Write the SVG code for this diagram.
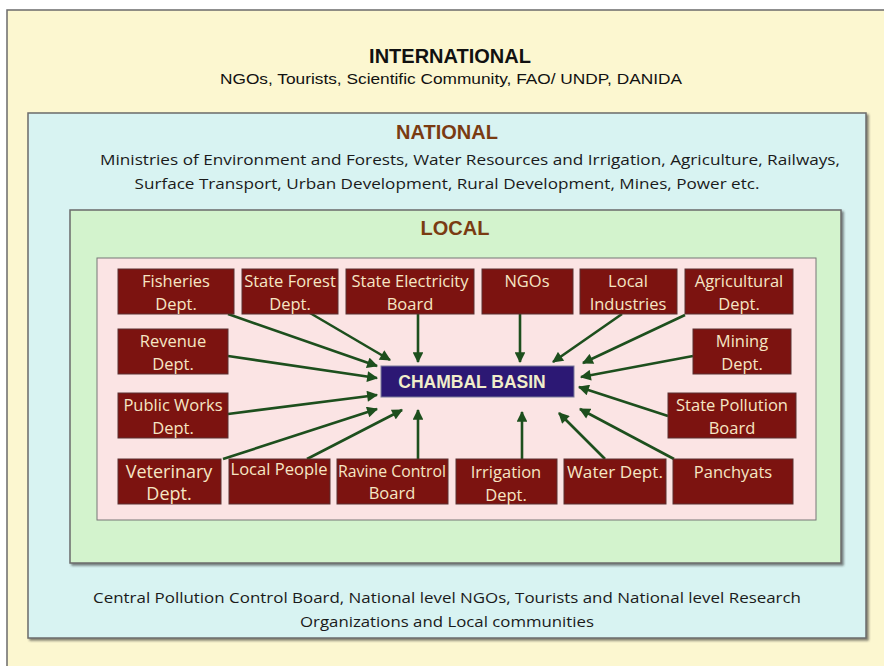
<svg xmlns="http://www.w3.org/2000/svg" width="884" height="666" viewBox="0 0 884 666">
  <defs>
    <marker id="arrow" viewBox="0 0 10 10" refX="9" refY="5" markerWidth="4.6" markerHeight="4.2" orient="auto" markerUnits="strokeWidth">
      <path d="M0,0 L10,5 L0,10 z" fill="#1d4f1d"/>
    </marker>
    <filter id="shadow" x="-5%" y="-5%" width="110%" height="110%">
      <feDropShadow dx="2" dy="2" stdDeviation="1" flood-color="#333" flood-opacity="0.6"/>
    </filter>
  </defs>
  <style>
    .lvl { stroke: #6b6b6b; stroke-width: 1.5; }
    .node rect { fill: #7c1310; stroke: #5a3030; stroke-width: 1; }
    .node text { fill: #f6e6c4; font-family: "Open Sans", "Noto Sans", sans-serif; font-size: 16.5px; text-anchor: middle; }
    .conn line { stroke: #1d4f1d; stroke-width: 2.6; marker-end: url(#arrow); }
    .head { font-family: "Liberation Sans", Arial, sans-serif; font-weight: bold; font-size: 20px; text-anchor: middle; }
    .body { font-family: "Open Sans", "Noto Sans", sans-serif; font-size: 15px; fill: #1a1a1a; text-anchor: middle; }
  </style>

  <!-- nested stakeholder levels -->
  <g id="international">
    <rect class="lvl" x="7" y="10" width="890" height="670" fill="#fcf7d0"/>
    <text class="head" x="450" y="63" fill="#111">INTERNATIONAL</text>
    <text x="451" y="84" font-family="Liberation Sans, Arial, sans-serif" font-size="15" fill="#111" text-anchor="middle" textLength="462" lengthAdjust="spacingAndGlyphs">NGOs, Tourists, Scientific Community, FAO/ UNDP, DANIDA</text>
  </g>

  <g id="national">
    <rect class="lvl" x="28" y="113" width="838" height="525" fill="#d8f3f2" filter="url(#shadow)"/>
    <text class="head" x="447" y="139" fill="#7a3b12">NATIONAL</text>
    <text class="body" x="470" y="165" textLength="740" lengthAdjust="spacingAndGlyphs">Ministries of Environment and Forests, Water Resources and Irrigation, Agriculture, Railways,</text>
    <text class="body" x="447" y="189" textLength="625" lengthAdjust="spacingAndGlyphs">Surface Transport, Urban Development, Rural Development, Mines, Power etc.</text>
    <text class="body" x="447" y="603" textLength="708" lengthAdjust="spacingAndGlyphs">Central Pollution Control Board, National level NGOs, Tourists and National level Research</text>
    <text class="body" x="447" y="627" textLength="294" lengthAdjust="spacingAndGlyphs">Organizations and Local communities</text>
  </g>

  <g id="local">
    <rect class="lvl" x="70" y="210" width="771" height="353" fill="#d3f3cd" filter="url(#shadow)"/>
    <text class="head" x="455" y="235" fill="#7a3b12">LOCAL</text>
    <rect x="97" y="258" width="719" height="262" fill="#fbe4e4" stroke="#777" stroke-width="1"/>
  </g>

  <!-- arrows toward the basin -->
  <g id="connectors" class="conn">
    <line x1="228" y1="314" x2="377" y2="366"/>
    <line x1="310" y1="313" x2="390" y2="360"/>
    <line x1="418" y1="314" x2="418" y2="362"/>
    <line x1="520" y1="314" x2="520" y2="362"/>
    <line x1="622" y1="314" x2="553" y2="362"/>
    <line x1="685" y1="315" x2="583" y2="363"/>
    <line x1="228" y1="356" x2="377" y2="378"/>
    <line x1="693" y1="356" x2="581" y2="377"/>
    <line x1="228" y1="414" x2="377" y2="395"/>
    <line x1="668" y1="416" x2="579" y2="387"/>
    <line x1="223" y1="459" x2="377" y2="409"/>
    <line x1="307" y1="459" x2="402" y2="410"/>
    <line x1="418" y1="459" x2="418" y2="410"/>
    <line x1="522" y1="459" x2="522" y2="412"/>
    <line x1="605" y1="459" x2="559" y2="413"/>
    <line x1="674" y1="459" x2="580" y2="409"/>
  </g>

  <g id="chambal-basin">
    <rect x="381" y="366" width="193" height="31" fill="#2c1874" stroke="#7a7a9a" stroke-width="1"/>
    <text x="472" y="388" font-family="Liberation Sans, Arial, sans-serif" font-weight="bold" font-size="17.5" fill="#f1edca" text-anchor="middle">CHAMBAL BASIN</text>
  </g>

  <!-- top row -->
  <g id="fisheries" class="node">
    <rect x="118" y="269" width="116" height="45"/>
    <text x="176" y="287">Fisheries</text><text x="176" y="310">Dept.</text>
  </g>
  <g id="state-forest" class="node">
    <rect x="242" y="269" width="96" height="45"/>
    <text x="290" y="287">State Forest</text><text x="290" y="310">Dept.</text>
  </g>
  <g id="state-electricity" class="node">
    <rect x="346" y="269" width="128" height="45"/>
    <text x="410" y="287">State Electricity</text><text x="410" y="310">Board</text>
  </g>
  <g id="ngos" class="node">
    <rect x="482" y="269" width="91" height="45"/>
    <text x="527" y="287">NGOs</text>
  </g>
  <g id="local-industries" class="node">
    <rect x="580" y="269" width="97" height="45"/>
    <text x="628" y="287">Local</text><text x="628" y="310">Industries</text>
  </g>
  <g id="agricultural" class="node">
    <rect x="685" y="269" width="108" height="45"/>
    <text x="739" y="287">Agricultural</text><text x="739" y="310">Dept.</text>
  </g>

  <!-- side columns -->
  <g id="revenue" class="node">
    <rect x="118" y="329" width="110" height="45"/>
    <text x="173" y="347">Revenue</text><text x="173" y="370">Dept.</text>
  </g>
  <g id="mining" class="node">
    <rect x="693" y="329" width="98" height="45"/>
    <text x="742" y="347">Mining</text><text x="742" y="370">Dept.</text>
  </g>
  <g id="public-works" class="node">
    <rect x="118" y="393" width="110" height="45"/>
    <text x="173" y="411">Public Works</text><text x="173" y="434">Dept.</text>
  </g>
  <g id="state-pollution" class="node">
    <rect x="668" y="393" width="128" height="45"/>
    <text x="732" y="411">State Pollution</text><text x="732" y="434">Board</text>
  </g>

  <!-- bottom row -->
  <g id="veterinary" class="node">
    <rect x="118" y="459" width="103" height="45"/>
    <text x="169" y="478" style="font-size:18px">Veterinary</text><text x="169" y="500" style="font-size:18px">Dept.</text>
  </g>
  <g id="local-people" class="node">
    <rect x="229" y="459" width="101" height="45"/>
    <text x="279" y="475" textLength="97" lengthAdjust="spacingAndGlyphs">Local People</text>
  </g>
  <g id="ravine-control" class="node">
    <rect x="337" y="459" width="111" height="45"/>
    <text x="392" y="477" textLength="108" lengthAdjust="spacingAndGlyphs">Ravine Control</text><text x="392" y="499">Board</text>
  </g>
  <g id="irrigation" class="node">
    <rect x="456" y="459" width="101" height="45"/>
    <text x="506" y="478">Irrigation</text><text x="506" y="501">Dept.</text>
  </g>
  <g id="water" class="node">
    <rect x="564" y="459" width="102" height="45"/>
    <text x="615" y="478" textLength="96" lengthAdjust="spacingAndGlyphs">Water Dept.</text>
  </g>
  <g id="panchyats" class="node">
    <rect x="673" y="459" width="120" height="45"/>
    <text x="733" y="478">Panchyats</text>
  </g>
</svg>
